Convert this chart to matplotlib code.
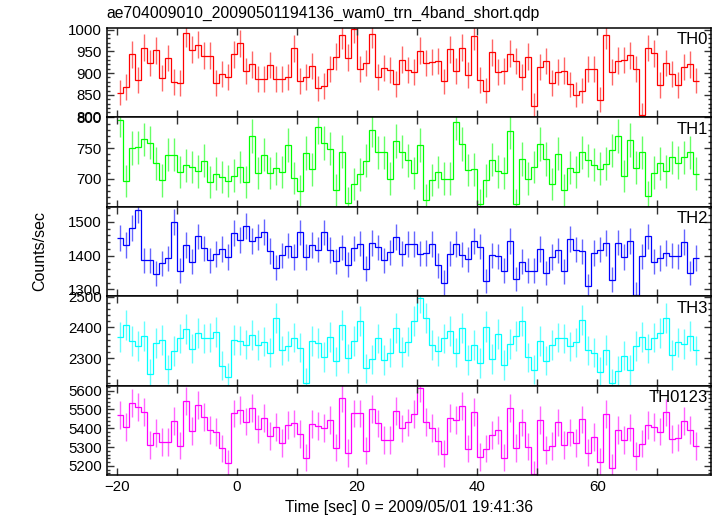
"""
WAM light curves in four energy bands plus their sum (TH0..TH3, TH0123),
1-s bins around the trigger at 2009/05/01 19:41:36, as drawn by qdp.

Values are read bin by bin off the original plot; error bars are the
Poisson sqrt(rate) for 1-s bins.
"""

import numpy as np
import matplotlib
matplotlib.use("Agg")
import matplotlib.pyplot as plt
from matplotlib.ticker import MultipleLocator

TITLE = "ae704009010_20090501194136_wam0_trn_4band_short.qdp"
XLABEL = "Time [sec] 0 = 2009/05/01 19:41:36"
YLABEL = "Counts/sec"

T_START = -20.0   # left edge of first bin
BIN_SEC = 1.0

th0 = [855, 868, 943, 884, 959, 923, 953, 889, 935, 880,
       877, 992, 954, 966, 940, 940, 878, 898, 891, 943,
       969, 905, 920, 887, 887, 918, 887, 887, 891, 957,
       882, 891, 916, 865, 871, 909, 938, 988, 936, 1002,
       910, 924, 990, 891, 912, 907, 875, 931, 908, 902,
       952, 923, 925, 928, 881, 955, 905, 959, 895, 985,
       884, 860, 948, 903, 905, 945, 928, 891, 938, 825,
       914, 928, 877, 902, 906, 874, 850, 860, 910, 909,
       839, 987, 902, 929, 930, 941, 910, 803, 958, 946,
       873, 924, 898, 873, 915, 920, 883]

th1 = [796, 696, 750, 751, 764, 759, 725, 697, 739, 739,
       711, 722, 719, 712, 729, 694, 708, 703, 696, 705,
       719, 695, 770, 709, 739, 709, 717, 711, 755, 701,
       680, 742, 715, 785, 758, 749, 682, 744, 661, 691,
       707, 729, 780, 743, 743, 700, 762, 744, 730, 709,
       755, 665, 698, 711, 700, 700, 792, 757, 714, 715,
       658, 697, 731, 712, 709, 777, 658, 732, 700, 719,
       757, 732, 691, 741, 681, 718, 711, 743, 730, 723,
       716, 724, 746, 770, 704, 763, 718, 743, 671, 710,
       725, 712, 735, 726, 735, 743, 708]

th2 = [1452, 1432, 1482, 1537, 1387, 1387, 1347, 1378, 1392, 1499,
       1356, 1431, 1382, 1457, 1422, 1387, 1405, 1420, 1396, 1468,
       1446, 1487, 1443, 1455, 1471, 1414, 1364, 1401, 1430, 1396,
       1469, 1396, 1431, 1418, 1469, 1417, 1384, 1425, 1373, 1422,
       1436, 1361, 1437, 1425, 1387, 1410, 1455, 1406, 1435, 1435,
       1406, 1408, 1435, 1371, 1320, 1406, 1435, 1403, 1390, 1443,
       1427, 1325, 1401, 1398, 1356, 1443, 1331, 1382, 1356, 1356,
       1420, 1349, 1396, 1416, 1354, 1449, 1418, 1413, 1310, 1408,
       1418, 1437, 1329, 1439, 1396, 1443, 1285, 1398, 1457, 1382,
       1393, 1408, 1400, 1398, 1441, 1349, 1393]

th3 = [2370, 2407, 2356, 2340, 2372, 2248, 2349, 2359, 2263, 2323,
       2364, 2396, 2331, 2383, 2364, 2367, 2386, 2275, 2237, 2359,
       2357, 2344, 2376, 2342, 2354, 2318, 2431, 2325, 2340, 2367,
       2334, 2219, 2356, 2349, 2304, 2370, 2289, 2409, 2299, 2356,
       2421, 2266, 2296, 2364, 2294, 2318, 2398, 2320, 2354, 2422,
       2497, 2432, 2342, 2323, 2364, 2389, 2318, 2398, 2294, 2342,
       2284, 2403, 2297, 2378, 2277, 2346, 2372, 2420, 2302, 2262,
       2355, 2291, 2342, 2367, 2364, 2338, 2351, 2424, 2325, 2318,
       2256, 2327, 2218, 2259, 2308, 2261, 2340, 2370, 2331, 2367,
       2383, 2432, 2310, 2351, 2345, 2372, 2325]

th0123 = [5472, 5408, 5536, 5515, 5488, 5312, 5376, 5328, 5328, 5440,
          5308, 5547, 5387, 5525, 5458, 5392, 5381, 5294, 5214, 5479,
          5497, 5436, 5509, 5396, 5454, 5360, 5408, 5323, 5419, 5426,
          5369, 5244, 5422, 5412, 5401, 5444, 5298, 5559, 5269, 5479,
          5479, 5282, 5502, 5426, 5337, 5337, 5493, 5399, 5431, 5476,
          5614, 5435, 5401, 5333, 5266, 5454, 5445, 5520, 5292, 5488,
          5248, 5292, 5365, 5392, 5244, 5508, 5296, 5431, 5303, 5157,
          5444, 5284, 5307, 5431, 5312, 5378, 5323, 5447, 5271, 5355,
          5223, 5476, 5191, 5390, 5339, 5404, 5253, 5319, 5419, 5408,
          5383, 5484, 5342, 5351, 5440, 5390, 5307]

bands = ["TH0", "TH1", "TH2", "TH3", "TH0123"]
colors = ["#ff0000", "#00ff00", "#0000ff", "#00ffff", "#ff00ff"]
ylims = [(798, 1004), (654, 800), (1280, 1545), (2210, 2502), (5152, 5627)]
ymajor = [50, 50, 100, 100, 100]
yminor = [10, 10, 20, 20, 20]

plt.rcParams["font.family"] = ["Liberation Sans", "DejaVu Sans"]


def _plot(path):
    series = [th0, th1, th2, th3, th0123]
    fig, axes = plt.subplots(5, 1, sharex=True, figsize=(7.17, 5.16), dpi=100,
                             gridspec_kw=dict(hspace=0))
    fig.subplots_adjust(left=0.149, right=0.992, top=0.9457, bottom=0.0795)

    for ax, name, vals, col, ylim, maj, mnr in zip(
            axes, bands, series, colors, ylims, ymajor, yminor):
        vals = np.asarray(vals, dtype=float)
        edges = T_START + BIN_SEC * np.arange(len(vals) + 1)
        mid = 0.5 * (edges[:-1] + edges[1:])
        ax.errorbar(mid, vals, yerr=np.sqrt(vals), fmt="none", ecolor=col,
                    elinewidth=1.0, alpha=0.6, capsize=0)
        ax.stairs(vals, edges, baseline=None, color=col, linewidth=0.9)
        ax.set_ylim(*ylim)
        ax.set_xlim(-21.7, 79)
        ax.yaxis.set_major_locator(MultipleLocator(maj))
        ax.yaxis.set_minor_locator(MultipleLocator(mnr))
        ax.xaxis.set_major_locator(MultipleLocator(20))
        ax.xaxis.set_minor_locator(MultipleLocator(10))
        ax.tick_params(which="both", direction="in", top=True, right=True,
                       labelsize=10.8, width=1.0, color="#333333")
        ax.tick_params(which="major", length=5)
        ax.tick_params(axis="x", which="minor", length=5)
        ax.tick_params(axis="y", which="minor", length=2.5)
        for sp in ax.spines.values():
            sp.set_linewidth(1.1)
        ax.text(0.995, 0.95, name, transform=ax.transAxes, ha="right", va="top",
                fontsize=12)

    fig.text(0.149, 0.974, TITLE, ha="left", va="center", fontsize=11.3)
    fig.text(0.055, 0.513, YLABEL, rotation=90, ha="center", va="center", fontsize=11.5)
    fig.text(0.571, 0.017, XLABEL, ha="center", va="center", fontsize=11.3)
    fig.savefig(path, dpi=100)
    plt.close(fig)


if __name__ == "__main__":
    _plot("out.png")
